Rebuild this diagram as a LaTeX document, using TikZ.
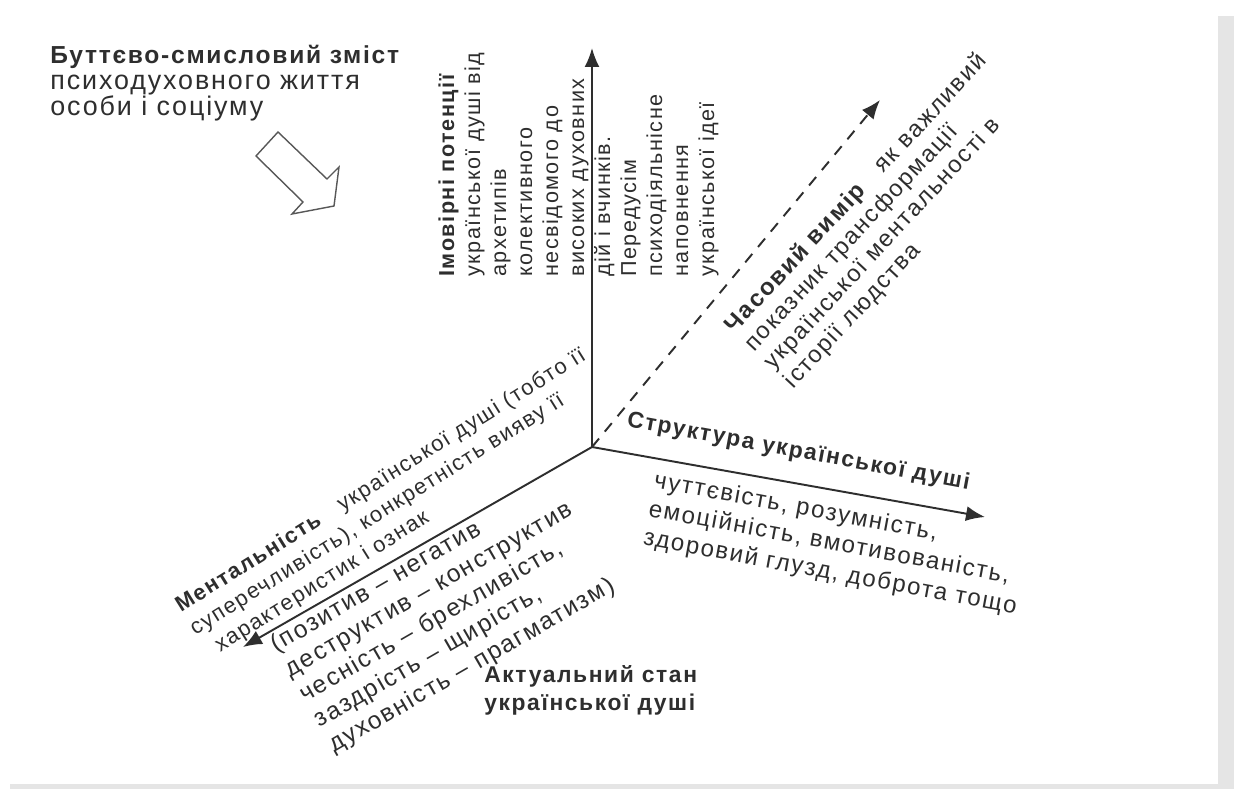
\documentclass[tikz,border=0pt]{standalone}
\usepackage{fontspec}
\setmainfont{Liberation Sans}[LetterSpace=7]
\usetikzlibrary{arrows.meta}
\definecolor{ink}{HTML}{2E2E2E}
\definecolor{shadow}{HTML}{E5E5E5}
\newcommand{\fsz}[2]{\fontsize{#1}{#2}\selectfont}

\begin{document}
\begin{tikzpicture}[x=0.02cm, y=0.02cm,
  axis/.style={line width=1.1pt, draw=ink, -{Latex[length=0.38cm, width=0.3cm]}},
  txt/.style={text=ink, inner sep=0pt, align=left}]
\useasboundingbox (0,0) rectangle (1237,789);
\fill[shadow] (10,0) rectangle (1234,773);
\fill[white] (0,5) rectangle (1218,789);

\coordinate (O) at (592,342);
\coordinate (up) at (592,741);
\coordinate (right) at (985,272);
\coordinate (left) at (243,142);
\coordinate (time) at (880,689);

\draw[axis] (O) -- (up);
\draw[axis] (O) -- (right);
\draw[axis] (O) -- (left);
\draw[axis, dash pattern=on 0.22cm off 0.18cm] (O) -- (time);

\node[txt, anchor=north west, font=\fsz{14}{14.8}] (meaning) at (50,744)
  {\textbf{Буттєво-смисловий зміст}\\\fsz{15.3}{14.8}психодуховного життя\\\fsz{15.3}{14.8}особи і соціуму};
\draw[draw=ink!80, line width=0.8pt] (278,657) -- (256,633) -- (303,587) -- (292,575)
  -- (334,583) -- (339,622) -- (327,610) -- cycle;

\node[txt, rotate=90, anchor=north west, font=\fsz{12.3}{14.8}] (potency) at (438,512)
  {\textbf{Імовірні потенції}\\української душі від\\архетипів\\колективного\\несвідомого до\\високих духовних\\дій і вчинків.\\Передусім\\психодіяльнісне\\наповнення\\української ідеї};

\node[txt, rotate=47, anchor=north west, font=\fsz{13.5}{15.3}] (epoch) at (721,467)
  {\textbf{Часовий вимір}\quad як важливий\\показник трансформації\\української ментальності в\\історії людства};

\node[txt, rotate=-10.5, anchor=base west, font=\bfseries\fsz{13}{15}] (structure) at (626,363)
  {Структура української душі};
\node[txt, rotate=-10.5, anchor=north west, font=\fsz{13.7}{16.5}] (traits) at (656,319)
  {чуттєвість, розумність,\\емоційність, вмотивованість,\\здоровий глузд, доброта тощо};

\node[txt, rotate=32, anchor=north west, font=\fsz{12.5}{15.5}] (mentality) at (172,190)
  {\textbf{Ментальність}\quad української душі (тобто її\\суперечливість), конкретність вияву її\\\hspace*{7pt}характеристик і ознак};

\node[txt, rotate=30, anchor=north west, font=\fsz{14}{16.5}] (state) at (267,152)
  {(позитив – негатив\\деструктив – конструктив\\чесність – брехливість,\\заздрість – щирість,\\духовність – прагматизм)};

\node[txt, anchor=north west, font=\bfseries\fsz{13}{15.9}] (actual) at (484,124)
  {Актуальний стан\\української душі};
\end{tikzpicture}
\end{document}
